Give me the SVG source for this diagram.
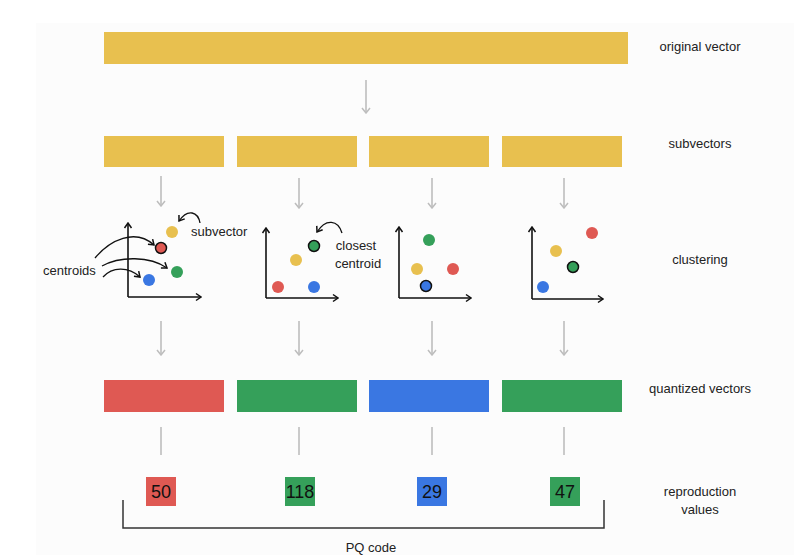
<svg xmlns="http://www.w3.org/2000/svg" width="794" height="555" viewBox="0 0 794 555">
<defs>
<style>
.lbl{font-family:"Liberation Sans","DejaVu Sans",sans-serif;font-size:13px;fill:#222;text-anchor:middle;dominant-baseline:central}
.ann{font-family:"Liberation Sans","DejaVu Sans",sans-serif;font-size:13px;fill:#222;dominant-baseline:central}
.num{font-family:"Liberation Sans","DejaVu Sans",sans-serif;font-size:18px;fill:#111;text-anchor:middle;dominant-baseline:central}
.y{fill:#E8C04F}.r{fill:#DF5953}.g{fill:#35A05A}.b{fill:#3A77E2}
.flow{stroke:#bdbdbd;stroke-width:1.6;fill:none}
.axis{stroke:#111;stroke-width:1.6;fill:none}
.curve{stroke:#111;stroke-width:1.3;fill:none}
.sel{stroke:#111;stroke-width:1.5}
</style>
<marker id="ag" viewBox="0 0 10 10" refX="9" refY="5" markerWidth="10" markerHeight="10" markerUnits="userSpaceOnUse" orient="auto"><path d="M4,1 L9,5 L4,9" fill="none" stroke="#bdbdbd" stroke-width="1.5"/></marker>
<marker id="ak" viewBox="0 0 10 10" refX="9" refY="5" markerWidth="10" markerHeight="10" markerUnits="userSpaceOnUse" orient="auto"><path d="M4,1.5 L9,5 L4,8.5" fill="none" stroke="#111" stroke-width="1.5"/></marker>
</defs>
<rect width="794" height="555" fill="#ffffff"/>
<rect x="36" y="23" width="758" height="532" fill="#fcfcfc"/>

<g id="original-vector"><rect class="y" x="104" y="32" width="524" height="32"/></g>
<g id="subvectors">
<rect class="y" x="104" y="136" width="120" height="31"/>
<rect class="y" x="237" y="136" width="120" height="31"/>
<rect class="y" x="369" y="136" width="120" height="31"/>
<rect class="y" x="502" y="136" width="120" height="31"/>
</g>

<g id="connectors">
<line class="flow" x1="366" y1="80" x2="366" y2="113" marker-end="url(#ag)"/>
<line class="flow" x1="161" y1="176" x2="161" y2="206" marker-end="url(#ag)"/>
<line class="flow" x1="299" y1="178" x2="299" y2="208" marker-end="url(#ag)"/>
<line class="flow" x1="432" y1="178" x2="432" y2="208" marker-end="url(#ag)"/>
<line class="flow" x1="564" y1="178" x2="564" y2="208" marker-end="url(#ag)"/>
<line class="flow" x1="161" y1="321" x2="161" y2="355" marker-end="url(#ag)"/>
<line class="flow" x1="299" y1="321" x2="299" y2="355" marker-end="url(#ag)"/>
<line class="flow" x1="432" y1="321" x2="432" y2="355" marker-end="url(#ag)"/>
<line class="flow" x1="564" y1="321" x2="564" y2="355" marker-end="url(#ag)"/>
<line class="flow" x1="161" y1="427" x2="161" y2="455"/>
<line class="flow" x1="299" y1="427" x2="299" y2="455"/>
<line class="flow" x1="432" y1="427" x2="432" y2="455"/>
<line class="flow" x1="564" y1="427" x2="564" y2="455"/>
</g>

<g id="cluster-1">
<line class="axis" x1="128" y1="297" x2="201" y2="297" marker-end="url(#ak)"/>
<line class="axis" x1="128" y1="297" x2="128" y2="223" marker-end="url(#ak)"/>
<circle class="y" cx="172" cy="232" r="6"/>
<circle class="r sel" cx="161" cy="248" r="5.5"/>
<circle class="g" cx="177" cy="272" r="6"/>
<circle class="b" cx="149" cy="280" r="6"/>
<path class="curve" d="M200,223 C198,212 188,208 179,221" marker-end="url(#ak)"/>
<text class="ann" x="191" y="231">subvector</text>
<path class="curve" d="M95,258 C110,240 135,228 154,245" marker-end="url(#ak)"/>
<path class="curve" d="M102,266 C120,256 150,256 167,268" marker-end="url(#ak)"/>
<path class="curve" d="M103,277 C112,267 128,266 140,277" marker-end="url(#ak)"/>
<text class="ann" x="43" y="270">centroids</text>
</g>

<g id="cluster-2">
<line class="axis" x1="266" y1="298" x2="338" y2="298" marker-end="url(#ak)"/>
<line class="axis" x1="266" y1="298" x2="266" y2="228" marker-end="url(#ak)"/>
<circle class="g sel" cx="314" cy="246" r="5.5"/>
<circle class="y" cx="296" cy="260" r="6"/>
<circle class="r" cx="278" cy="287" r="6"/>
<circle class="b" cx="314" cy="287" r="6"/>
<path class="curve" d="M342,233 C338,220 326,218 317,232" marker-end="url(#ak)"/>
<text class="lbl" x="356" y="245">closest</text>
<text class="lbl" x="358" y="263">centroid</text>
</g>

<g id="cluster-3">
<line class="axis" x1="399" y1="298" x2="471" y2="298" marker-end="url(#ak)"/>
<line class="axis" x1="399" y1="298" x2="399" y2="227" marker-end="url(#ak)"/>
<circle class="g" cx="429" cy="240" r="6"/>
<circle class="y" cx="417" cy="269" r="6"/>
<circle class="r" cx="453" cy="269" r="6"/>
<circle class="b sel" cx="426" cy="286" r="5.5"/>
</g>

<g id="cluster-4">
<line class="axis" x1="532" y1="299" x2="603" y2="299" marker-end="url(#ak)"/>
<line class="axis" x1="532" y1="299" x2="532" y2="227" marker-end="url(#ak)"/>
<circle class="r" cx="592" cy="233" r="6"/>
<circle class="y" cx="556" cy="251" r="6"/>
<circle class="g sel" cx="573" cy="267" r="5.5"/>
<circle class="b" cx="543" cy="287" r="6"/>
</g>

<g id="quantized-vectors">
<rect class="r" x="104" y="380" width="120" height="32"/>
<rect class="g" x="237" y="380" width="120" height="32"/>
<rect class="b" x="369" y="380" width="120" height="32"/>
<rect class="g" x="502" y="380" width="120" height="32"/>
</g>

<g id="codes">
<rect class="r" x="146" y="477" width="30" height="29"/><text class="num" x="161" y="492">50</text>
<rect class="g" x="285" y="477" width="30" height="29"/><text class="num" x="300" y="492">118</text>
<rect class="b" x="417" y="477" width="30" height="29"/><text class="num" x="432" y="492">29</text>
<rect class="g" x="550" y="477" width="30" height="29"/><text class="num" x="565" y="492">47</text>
</g>

<g id="pq-code">
<polyline points="123,500 123,528 604,528 604,500" fill="none" stroke="#333" stroke-width="1.5"/>
<text class="lbl" x="371" y="547">PQ code</text>
</g>

<g id="labels">
<text class="lbl" x="700" y="46">original vector</text>
<text class="lbl" x="700" y="143">subvectors</text>
<text class="lbl" x="700" y="259">clustering</text>
<text class="lbl" x="700" y="388">quantized vectors</text>
<text class="lbl" x="700" y="491">reproduction</text>
<text class="lbl" x="700" y="509">values</text>
</g>
</svg>
